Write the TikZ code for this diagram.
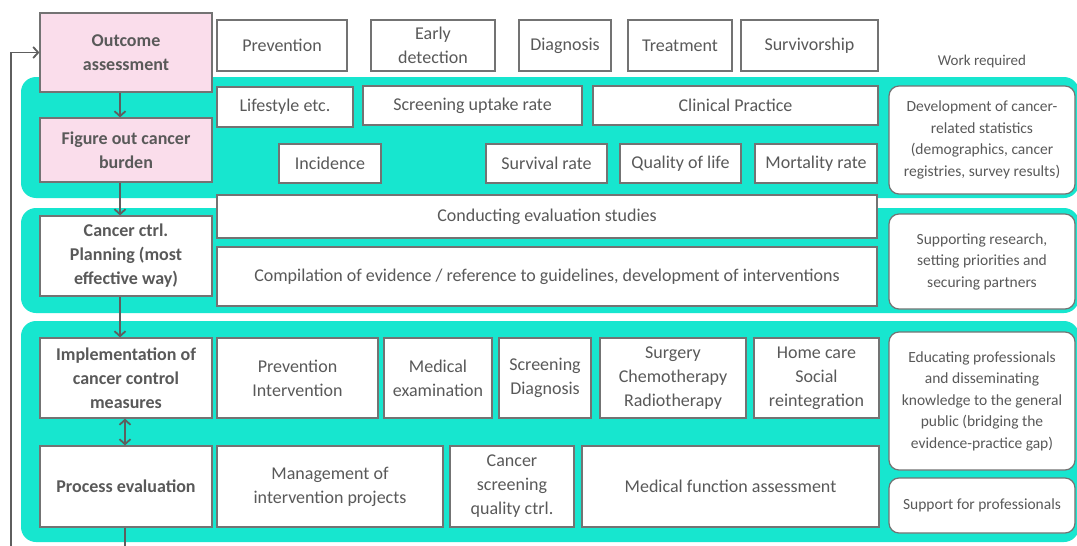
\documentclass[tikz,border=0pt]{standalone}
\usepackage{fontspec}
\setmainfont{Carlito}
\usetikzlibrary{arrows.meta}
\definecolor{bandc}{HTML}{17E6CF}
\definecolor{pinkf}{HTML}{FADDEB}
\definecolor{bord}{HTML}{737373}
\definecolor{txt}{HTML}{595959}
\definecolor{arrc}{HTML}{5E5E5E}
\begin{document}
\begin{tikzpicture}[x=1pt,y=-1pt,
  box/.style={draw=bord, line width=1.2pt, fill=white, inner sep=0pt, align=center,
    text=txt, font=\fontsize{18}{24}\selectfont},
  stage/.style={box, font=\fontsize{18}{24}\selectfont\bfseries, minimum width=172pt},
  pinkbox/.style={stage, fill=pinkf},
  workbox/.style={box, rounded corners=10pt, font=\fontsize{15.5}{21.5}\selectfont, minimum width=186pt},
  band/.style={fill=bandc, rounded corners=15pt},
  arr/.style={draw=arrc, line width=1.8pt, -{Straight Barb[length=5pt,width=11pt,line width=1.8pt]}},
  dbl/.style={draw=arrc, line width=1.8pt, {Straight Barb[length=5pt,width=11pt,line width=1.8pt]}-{Straight Barb[length=5pt,width=11pt,line width=1.8pt]}},
  plain/.style={text=txt, font=\fontsize{15}{21}\selectfont, inner sep=0pt}
]
\useasboundingbox (0,0) rectangle (1077,546);
\clip (0,0) rectangle (1077,546);
\fill[white] (0,0) rectangle (1077,546);

% bands
\fill[band] (21,77) rectangle (1079,198);
\fill[band] (21,208) rectangle (1079,313);
\fill[band] (21,321) rectangle (1079,542);

% stage boxes
\node[pinkbox, minimum height=79pt] (outcome) at (126,52.5) {Outcome\\assessment};
\node[pinkbox, minimum height=64pt] (figure) at (126,150) {Figure out cancer\\burden};
\node[stage, minimum height=80pt] (planning) at (126,256) {Cancer ctrl.\\Planning (most\\effective way)};
\node[stage, minimum height=80pt] (impl) at (126,378) {Implementation of\\cancer control\\measures};
\node[stage, minimum height=81pt] (process) at (126,486.5) {Process evaluation};

% top row
\node[box, minimum width=130pt, minimum height=51pt] (prev) at (282,45.5) {Prevention};
\node[box, minimum width=124pt, minimum height=51pt] (early) at (433,45.5) {Early\\detection};
\node[box, minimum width=92pt, minimum height=51pt] (diag) at (565,45.5) {Diagnosis};
\node[box, minimum width=104pt, minimum height=51pt] (treat) at (680,45.5) {Treatment};
\node[box, minimum width=137pt, minimum height=51pt] (surv) at (809.5,45.5) {Survivorship};
\node[plain] (work) at (982,62) {Work required};

% band 1
\node[box, minimum width=136pt, minimum height=40pt] (life) at (285,107) {Lifestyle etc.};
\node[box, minimum width=219pt, minimum height=39pt] (scrup) at (472.5,105.5) {Screening uptake rate};
\node[box, minimum width=285pt, minimum height=39pt] (clin) at (735.5,105.5) {Clinical Practice};
\node[box, minimum width=102pt, minimum height=39pt] (inc) at (330,163.5) {Incidence};
\node[box, minimum width=121pt, minimum height=39pt] (survr) at (546.5,163.5) {Survival rate};
\node[box, minimum width=121pt, minimum height=39pt] (qol) at (680.5,163.5) {Quality of life};
\node[box, minimum width=122pt, minimum height=39pt] (mort) at (816,163.5) {Mortality rate};
\node[workbox, minimum height=108pt] (w1) at (982,140) {Development of cancer-\\related statistics\\(demographics, cancer\\registries, survey results)};

% band 2
\node[box, minimum width=660pt, minimum height=43pt] (cond) at (547,216.5) {Conducting evaluation studies};
\node[box, minimum width=660pt, minimum height=59pt] (comp) at (547,276.5) {Compilation of evidence / reference to guidelines, development of interventions};
\node[workbox, minimum height=95pt] (w2) at (982,261.5) {Supporting research,\\setting priorities and\\securing partners};

% band 3
\node[box, minimum width=161pt, minimum height=80pt] (prevint) at (297.5,378) {Prevention\\Intervention};
\node[box, minimum width=108pt, minimum height=80pt] (medex) at (438,378) {Medical\\examination};
\node[box, minimum width=92pt, minimum height=80pt] (scrdiag) at (545,378) {Screening\\Diagnosis};
\node[box, minimum width=146pt, minimum height=80pt] (surg) at (673,378) {Surgery\\Chemotherapy\\Radiotherapy};
\node[box, minimum width=125pt, minimum height=80pt] (home) at (816.5,378) {Home care\\Social\\reintegration};
\node[box, minimum width=226pt, minimum height=81pt] (mgmt) at (330,486.5) {Management of\\intervention projects};
\node[box, minimum width=124pt, minimum height=81pt] (csqc) at (512,486.5) {Cancer\\screening\\quality ctrl.};
\node[box, minimum width=297pt, minimum height=81pt] (mfa) at (730.5,486.5) {Medical function assessment};
\node[workbox, minimum height=138pt] (w3) at (982,401) {Educating professionals\\and disseminating\\knowledge to the general\\public (bridging the\\evidence-practice gap)};
\node[workbox, minimum height=55pt] (w4) at (982,505.5) {Support for professionals};

% connectors
\draw[arr] ([xshift=-6pt]outcome.south) -- ([xshift=-6pt]figure.north);
\draw[arr] ([xshift=-6pt]figure.south) -- ([xshift=-6pt]planning.north);
\draw[arr] ([xshift=-6pt]planning.south) -- ([xshift=-6pt]impl.north);
\draw[dbl] ([xshift=-1pt]impl.south) -- ([xshift=-1pt]process.north);
\coordinate (loop) at (11,580);
\draw[arr] ([xshift=-1pt]process.south) |- (loop) |- (outcome.west);
\end{tikzpicture}
\end{document}
